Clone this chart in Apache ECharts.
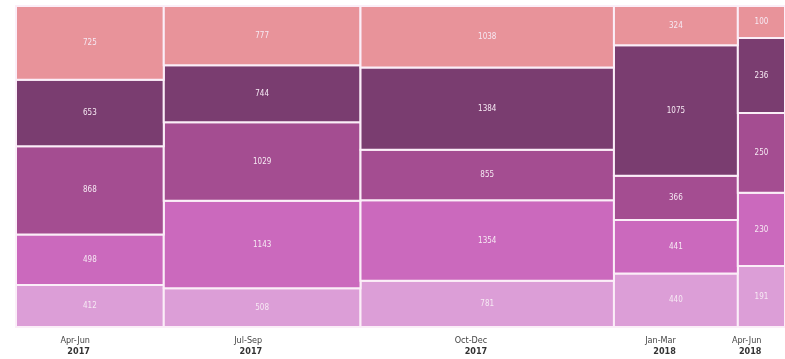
<!DOCTYPE html>
<html>
<head>
<meta charset="utf-8">
<script src="https://cdn.jsdelivr.net/npm/echarts@6/dist/echarts.min.js"></script>
<style>
html,body{margin:0;padding:0;background:#fff;}
#c{width:785px;height:359px;}
</style>
</head>
<body>
<div id="c"></div>
<script>
// Column categories
const periods = ['Apr-Jun', 'Jul-Sep', 'Oct-Dec', 'Jan-Mar', 'Apr-Jun'];
const years = ['2017', '2017', '2017', '2018', '2018'];

// Segment values, bottom to top
const seg1 = [412, 508, 781, 440, 191];
const seg2 = [498, 1143, 1354, 441, 230];
const seg3 = [868, 1029, 855, 366, 250];
const seg4 = [653, 744, 1384, 1075, 236];
const seg5 = [725, 777, 1038, 324, 100];

const segments = [seg1, seg2, seg3, seg4, seg5];
const colors = ['#dc9ed7', '#cb69bd', '#a44d91', '#7a3d70', '#e8939a'];

const totals = periods.map((_, i) => segments.reduce((s, a) => s + a[i], 0));
const starts = [];
let acc = 0;
totals.forEach(t => { starts.push(acc); acc += t; });
const grand = acc;

function cellRender(params, api) {
  const x0 = api.value(0), x1 = api.value(1), y0 = api.value(2), y1 = api.value(3);
  const p0 = api.coord([x0, y1]);
  const p1 = api.coord([x1, y0]);
  return {
    type: 'rect',
    shape: { x: p0[0], y: p0[1], width: p1[0] - p0[0], height: p1[1] - p0[1] },
    style: { fill: api.visual('color'), stroke: '#fbeef8', lineWidth: 2 },
    textContent: {
      style: { text: String(api.value(4)), fill: '#f6e9f3', fontSize: 8, fontFamily: 'DejaVu Sans Condensed, DejaVu Sans, sans-serif' }
    },
    textConfig: { position: 'inside' }
  };
}

const series = segments.map((seg, si) => {
  const data = seg.map((v, i) => {
    let below = 0;
    for (let k = 0; k < si; k++) below += segments[k][i];
    const y0 = below / totals[i] * 100;
    const y1 = (below + v) / totals[i] * 100;
    return [starts[i], starts[i] + totals[i], y0, y1, v];
  });
  return {
    type: 'custom',
    name: 's' + si,
    itemStyle: { color: colors[si] },
    renderItem: cellRender,
    data: data,
    clip: false,
    silent: true
  };
});

series.push({
  type: 'custom',
  name: 'labels',
  silent: true,
  clip: false,
  data: periods.map((p, i) => [starts[i] + totals[i] / 2, i]),
  renderItem: function (params, api) {
    const i = api.value(1);
    const pt = api.coord([api.value(0), 0]);
    const font = 'DejaVu Sans Condensed, DejaVu Sans, sans-serif';
    return {
      type: 'group',
      children: [
        { type: 'text', x: pt[0], y: pt[1] + 9,
          style: { text: periods[i], fill: '#444', fontSize: 9, fontFamily: font, align: 'right', verticalAlign: 'top' } },
        { type: 'text', x: pt[0], y: pt[1] + 20,
          style: { text: years[i], fill: '#333', fontSize: 9, fontWeight: 'bold', fontFamily: font, align: 'right', verticalAlign: 'top' } }
      ]
    };
  }
});

const chart = echarts.init(document.getElementById('c'), null, { renderer: 'canvas' });
chart.setOption({
  animation: false,
  backgroundColor: '#fff',
  grid: { left: 16, top: 6, width: 774, height: 321 },
  xAxis: { type: 'value', min: 0, max: grand, show: false },
  yAxis: { type: 'value', min: 0, max: 100, show: false },
  series: series
});
</script>
</body>
</html>
